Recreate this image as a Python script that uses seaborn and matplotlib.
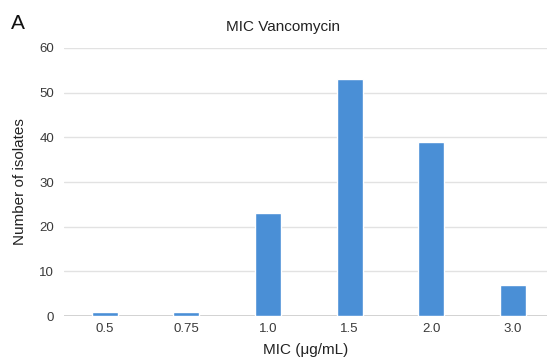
import matplotlib
matplotlib.use("Agg")
import matplotlib.pyplot as plt
import seaborn as sns
import pandas as pd

categories = ["0.5", "0.75", "1.0", "1.5", "2.0", "3.0"]
isolates = [1, 1, 23, 53, 39, 7]
y_ticks = [0, 10, 20, 30, 40, 50, 60]

df = pd.DataFrame({"MIC": categories, "count": isolates})

sns.set_theme(style="white")
plt.rcParams['font.family'] = ['Liberation Sans', 'DejaVu Sans']

fig = plt.figure(figsize=(5.47, 3.58), dpi=100)
ax = fig.add_axes([0.117, 0.117, 0.883, 0.749])

sns.barplot(data=df, x="MIC", y="count", color="#4a8fd6", width=0.32,
            saturation=1, ax=ax, zorder=3)

ax.set_ylim(0, 60)
ax.set_yticks(y_ticks)
ax.set_xlim(-0.5, 5.42)
ax.yaxis.grid(True, color="#e2e2e2", linewidth=1.0, zorder=0)
ax.axhline(0, color="#cccccc", linewidth=1.2, zorder=2)
for s in ax.spines.values():
    s.set_visible(False)
ax.tick_params(axis="both", length=0, labelsize=9.5, colors="#3a3a3a")
ax.tick_params(axis="x", pad=5)
ax.tick_params(axis="y", pad=7)

ax.set_xlabel("MIC (μg/mL)", fontsize=11, color="#222222", labelpad=6)
ax.set_ylabel("Number of isolates", fontsize=11, color="#222222", labelpad=9)

fig.text(0.518, 0.925, "MIC Vancomycin", ha="center", va="center",
         fontsize=11, color="#222222")
fig.text(0.02, 0.935, "A", ha="left", va="center", fontsize=15, color="#111111")

fig.savefig("out.png", dpi=100)
